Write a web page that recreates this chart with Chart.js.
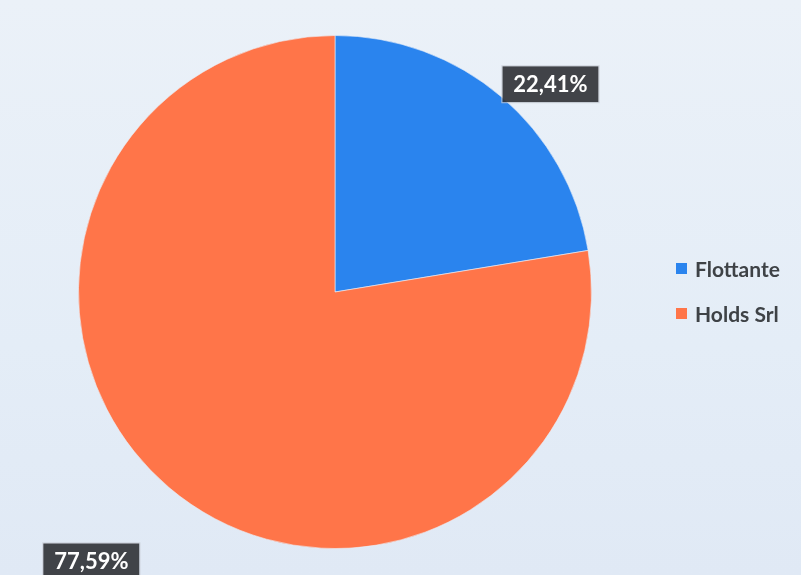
<!DOCTYPE html>
<html>
<head>
<meta charset="utf-8">
<script src="https://cdn.jsdelivr.net/npm/chart.js@4"></script>
<style>
  html, body { margin: 0; padding: 0; }
  body { width: 801px; height: 575px; overflow: hidden; background: linear-gradient(180deg, #ebf1f8 0%, #e4edf7 60%, #e0e9f5 100%); position: relative; font-family: Lato, "Open Sans", sans-serif; }
  #wrap { position: absolute; left: 0; top: 0; width: 801px; height: 575px; }
  .legend { position: absolute; left: 676px; top: 255px; }
  .item { display: flex; align-items: center; height: 26px; margin-bottom: 19px; font-size: 21px; font-weight: 700; color: #3e4246; }
  .sw { width: 11px; height: 11px; margin-right: 8px; }
</style>
</head>
<body>
<div id="wrap"><canvas id="c" width="801" height="575"></canvas></div>
<div class="legend" id="legend"></div>
<script>
const categories = ["Flottante", "Holds Srl"];
const shares = [22.41, 77.59];
const labels = ["22,41%", "77,59%"];
const colors = ["#2a84ee", "#ff7549"];

// label anchors expressed relative to each slice's outer radius
const labelAnchor = [[0.84, -0.81], [-0.95, 1.05]];

const labelPlugin = {
  id: 'sliceLabels',
  afterDatasetsDraw(chart) {
    const ctx = chart.ctx;
    const meta = chart.getDatasetMeta(0);
    ctx.save();
    ctx.font = '700 22px Lato, "Open Sans", sans-serif';
    ctx.textAlign = 'center';
    ctx.textBaseline = 'middle';
    meta.data.forEach((arc, i) => {
      const r = arc.outerRadius;
      const cx = arc.x + labelAnchor[i][0] * r;
      const cy = arc.y + labelAnchor[i][1] * r;
      const t = labels[i];
      const w = ctx.measureText(t).width + 22;
      const h = 36;
      ctx.fillStyle = 'rgba(50,52,56,0.92)';
      ctx.fillRect(cx - w / 2, cy - h / 2, w, h);
      ctx.strokeStyle = 'rgba(200,205,215,0.8)';
      ctx.lineWidth = 1;
      ctx.strokeRect(cx - w / 2 - 0.5, cy - h / 2 - 0.5, w + 1, h + 1);
      ctx.fillStyle = '#ffffff';
      ctx.fillText(t, cx, cy + 1);
    });
    ctx.restore();
  }
};

new Chart(document.getElementById('c'), {
  type: 'pie',
  data: {
    labels: categories,
    datasets: [{
      data: shares,
      backgroundColor: colors,
      borderColor: 'rgba(235,240,248,0.6)',
      borderWidth: 1
    }]
  },
  options: {
    responsive: false,
    animation: false,
    layout: { padding: { left: 78, right: 209, top: 35, bottom: 26 } },
    plugins: { legend: { display: false }, tooltip: { enabled: false } }
  },
  plugins: [labelPlugin]
});

const lg = document.getElementById('legend');
categories.forEach((c, i) => {
  const d = document.createElement('div');
  d.className = 'item';
  d.innerHTML = '<span class="sw" style="background:' + colors[i] + '"></span><span>' + c + '</span>';
  lg.appendChild(d);
});
</script>
</body>
</html>
